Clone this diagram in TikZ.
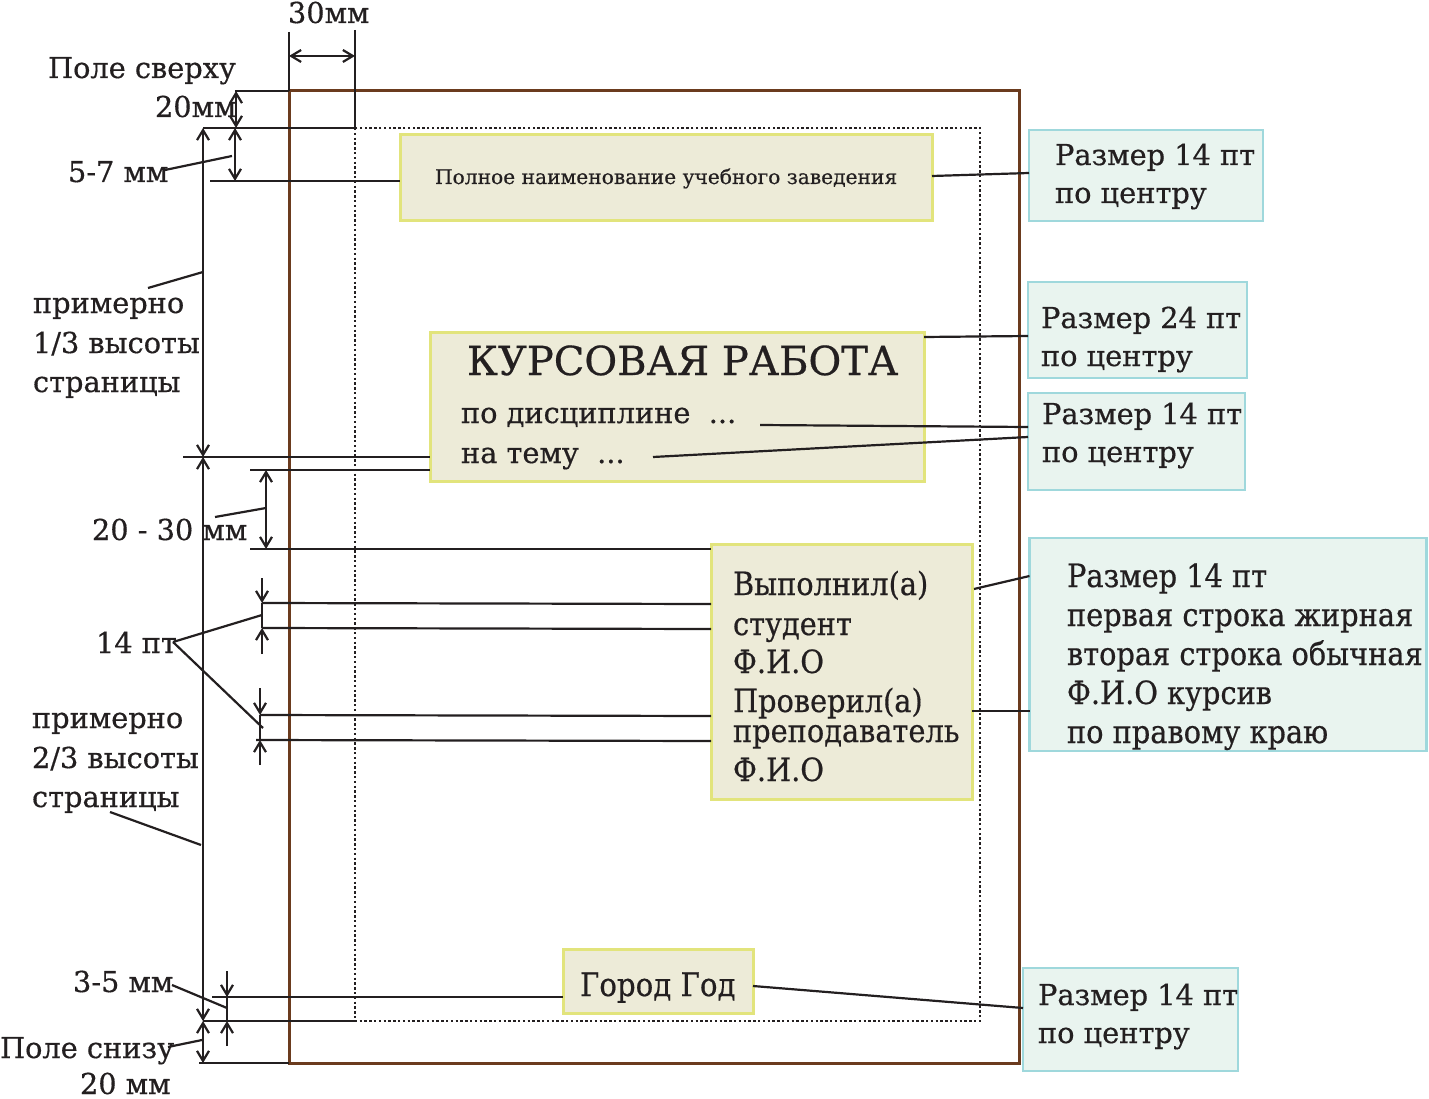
\documentclass[tikz,border=0pt]{standalone}
\usepackage{fontspec}
\setmainfont{DejaVu Serif}[FakeBold=0.5]
\newfontfamily\condf[FakeStretch=0.9,FakeBold=0.5]{DejaVu Serif}
\usetikzlibrary{arrows.meta,calc}
\definecolor{ink}{HTML}{231F20}
\definecolor{pagebrown}{HTML}{6B3B1E}
\definecolor{yfill}{HTML}{EDEBD8}
\definecolor{yline}{HTML}{E2E47C}
\definecolor{cfill}{HTML}{E9F4EF}
\definecolor{cline}{HTML}{9FD8DC}
\tikzset{
  ybox/.style={draw=yline, fill=yfill, line width=3pt, inner sep=0pt, outer sep=0pt, rectangle},
  cbox/.style={draw=cline, fill=cfill, line width=2.5pt, inner sep=0pt, outer sep=0pt, rectangle},
  dimline/.style={draw=ink, line width=2.2pt},
  twoarr/.style={dimline, {Straight Barb[length=10pt,width=12pt]}-{Straight Barb[length=10pt,width=12pt]}},
  onearr/.style={dimline, -{Straight Barb[length=10pt,width=12pt]}},
  lbl/.style={text=ink, inner sep=0pt, outer sep=0pt, anchor=base west, font=\fontsize{28.8}{30}\selectfont},
  clbl/.style={text=ink, inner sep=0pt, outer sep=0pt, anchor=base west, font=\condf\fontsize{32}{34}\selectfont},
}
\begin{document}
\begin{tikzpicture}[x=1pt,y=-1pt]
\useasboundingbox (0,0) rectangle (1429,1099);
% page and text area
\draw[pagebrown, line width=3pt] (289,91) rectangle (1019,1063);
\draw[ink, line width=2.6pt, dash pattern=on 2.4pt off 2.4pt] (355,128) rectangle (980,1021);

% boxes
\node[ybox, minimum width=532, minimum height=86] (b1) at (666,178) {};
\node[ybox, minimum width=494, minimum height=149] (b2) at (677,406.5) {};
\node[ybox, minimum width=261, minimum height=255] (b3) at (841.5,671.5) {};
\node[ybox, minimum width=190, minimum height=64] (b4) at (658,981) {};
\node[cbox, minimum width=234, minimum height=91] (c1) at (1146,175.5) {};
\node[cbox, minimum width=219, minimum height=96] (c2) at (1137.5,330) {};
\node[cbox, minimum width=217, minimum height=97] (c3) at (1136.5,441.5) {};
\node[cbox, minimum width=397, minimum height=213] (c4) at (1228,644.5) {};
\node[cbox, minimum width=215, minimum height=103] (c5) at (1130.5,1019.5) {};

% box texts
\node[lbl, font=\fontsize{20.2}{22}\selectfont] (t1) at (435,184) {Полное наименование учебного заведения};
\node[lbl, font=\fontsize{40}{42}\selectfont] (t2) at (467,375) {КУРСОВАЯ РАБОТА};
\node[lbl] (t3) at (461,423) {по дисциплине\ \ ...};
\node[lbl] (t4) at (461,463) {на тему\ \ ...};
\node[clbl] (t5) at (733,595) {Выполнил(а)};
\node[clbl] (t6) at (733,635) {студент};
\node[clbl] (t7) at (733,673) {Ф.И.О};
\node[clbl] (t8) at (733,712) {Проверил(а)};
\node[clbl] (t9) at (733,742) {преподаватель};
\node[clbl] (t10) at (733,781) {Ф.И.О};
\node[clbl, font=\condf\fontsize{32.5}{35}\selectfont] (t11) at (580,996) {Город Год};

\node[lbl] (c1a) at (1055,165) {Размер 14 пт};
\node[lbl] (c1b) at (1055,203) {по центру};
\node[lbl] (c2a) at (1041,328) {Размер 24 пт};
\node[lbl] (c2b) at (1041,366) {по центру};
\node[lbl] (c3a) at (1042,424) {Размер 14 пт};
\node[lbl] (c3b) at (1042,462) {по центру};
\node[clbl] (c4a) at (1067,587) {Размер 14 пт};
\node[clbl] (c4b) at (1067,626) {первая строка жирная};
\node[clbl] (c4c) at (1067,665) {вторая строка обычная};
\node[clbl] (c4d) at (1067,704) {Ф.И.О курсив};
\node[clbl] (c4e) at (1067,743) {по правому краю};
\node[lbl] (c5a) at (1038,1005) {Размер 14 пт};
\node[lbl] (c5b) at (1038,1043) {по центру};

% connectors box -> note
\draw[dimline] (b1.east |- 0,176) -- (c1.west |- 0,173);
\draw[dimline] (b2.east |- 0,337) -- (c2.west |- 0,336);
\coordinate (pd) at (760,425);
\coordinate (nt) at (653,457);
\draw[dimline] (pd) -- (c3.west |- 0,427);
\draw[dimline] (nt) -- (c3.west |- 0,437);
\draw[dimline] (974,589) -- (c4.west |- 0,576);
\draw[dimline] (b3.east |- 0,711) -- (c4.west |- 0,711);
\draw[dimline] (b4.east |- 0,986) -- (c5.west |- 0,1008);

% left labels
\node[lbl] (l30) at (288,23) {30мм};
\node[lbl] (lps) at (48,78) {Поле сверху};
\node[lbl] (l20) at (155,117) {20мм};
\node[lbl] (l57) at (68,182) {5-7 мм};
\node[lbl] (l13a) at (33,313) {примерно};
\node[lbl] (l13b) at (33,353) {1/3 высоты};
\node[lbl] (l13c) at (33,392) {страницы};
\node[lbl] (l2030) at (92,540) {20 - 30 мм};
\node[lbl] (l14) at (96,653) {14 пт};
\node[lbl] (l23a) at (32,728) {примерно};
\node[lbl] (l23b) at (32,768) {2/3 высоты};
\node[lbl] (l23c) at (32,807) {страницы};
\node[lbl] (l35) at (73,992) {3-5 мм};
\node[lbl] (lpn) at (0,1058) {Поле снизу};
\node[lbl] (l20b) at (80,1094) {20 мм};

% top margin 30 mm
\draw[dimline] (289,32) -- (289,91);
\draw[dimline] (355,30) -- (355,128);
\draw[twoarr] (289,56) -- (355,56);
% top field
\draw[dimline] (235,91) -- (289,91);
\draw[dimline] (203,128) -- (355,128);
\draw[twoarr] (236,91) -- (236,128);
% 5-7 mm
\draw[twoarr] (235,128) -- (235,181);
\draw[dimline] (210,181) -- (b1.west |- 0,181);
\draw[dimline] (165,170) -- (232,156);
% 1/3
\draw[twoarr] (203,128) -- (203,457);
\draw[dimline] (148,288) -- (203,272);
\draw[dimline] (183,457) -- (b2.west |- 0,457);
\draw[dimline] (250,470) -- (b2.west |- 0,470);
% 20-30 mm
\draw[twoarr] (266,470) -- (266,549);
\draw[dimline] (250,549) -- (b3.west |- 0,549);
\draw[dimline] (215,517) -- (266,508);
% 2/3
\draw[twoarr] (203,457) -- (203,1021);
\draw[dimline] (110,812) -- (201,845);
% 14 pt first
\draw[onearr] (262,578) -- (262,603);
\draw[onearr] (262,654) -- (262,628);
\draw[dimline] (262,603) -- (262,628);
\draw[dimline] (262,603) -- (b3.west |- 0,604);
\draw[dimline] (262,628) -- (b3.west |- 0,629);
% 14 pt second
\draw[onearr] (260,688) -- (260,715);
\draw[onearr] (260,765) -- (260,740);
\draw[dimline] (260,715) -- (260,740);
\draw[dimline] (260,715) -- (b3.west |- 0,716);
\draw[dimline] (256,740) -- (b3.west |- 0,741);
\draw[dimline] (173,642) -- (262,615);
\draw[dimline] (173,642) -- (263,728);
% 3-5 mm
\draw[onearr] (227,971) -- (227,997);
\draw[onearr] (227,1046) -- (227,1021);
\draw[dimline] (227,997) -- (227,1021);
\draw[dimline] (212,997) -- (b4.west |- 0,997);
\draw[dimline] (172,985) -- (227,1008);
% bottom field
\draw[dimline] (203,1021) -- (355,1021);
\draw[twoarr] (203,1021) -- (203,1063);
\draw[dimline] (199,1063) -- (289,1063);
\draw[dimline] (168,1047) -- (202,1040);
\end{tikzpicture}
\end{document}
